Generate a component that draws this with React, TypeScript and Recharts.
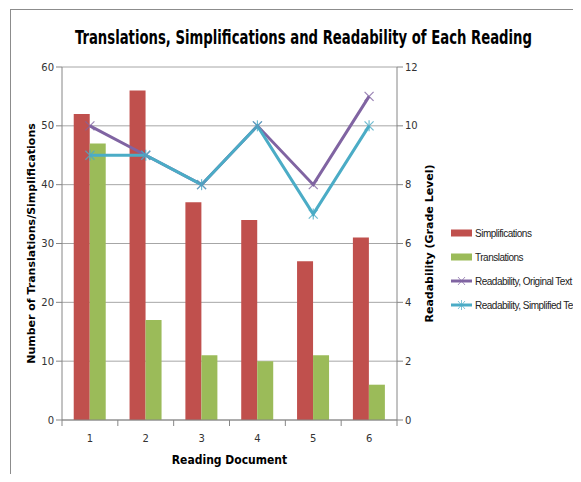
import {
  ComposedChart,
  Bar,
  Line,
  XAxis,
  YAxis,
  CartesianGrid,
} from 'recharts'

const documents = ['1', '2', '3', '4', '5', '6']
const simplifications = [52, 56, 37, 34, 27, 31]
const translations = [47, 17, 11, 10, 11, 6]
const readabilityOriginal = [10, 9, 8, 10, 8, 11]
const readabilitySimplified = [9, 9, 8, 10, 7, 10]
const leftTicks = [0, 10, 20, 30, 40, 50, 60]
const rightTicks = [0, 2, 4, 6, 8, 10, 12]

const RED = '#c0504d'
const GREEN = '#9bbb59'
const PURPLE = '#8064a2'
const CYAN = '#4bacc6'
const AXIS = '#868686'

const data = documents.map((d, i) => ({
  doc: d,
  simplifications: simplifications[i],
  translations: translations[i],
  original: readabilityOriginal[i],
  simplified: readabilitySimplified[i],
}))

const CrossDot = (props: any) => {
  const { cx, cy } = props
  if (cx == null || cy == null) return null
  const s = 4.5
  return (
    <g stroke={PURPLE} strokeWidth={1.2} opacity={0.8}>
      <line x1={cx - s} y1={cy - s} x2={cx + s} y2={cy + s} />
      <line x1={cx - s} y1={cy + s} x2={cx + s} y2={cy - s} />
    </g>
  )
}

const StarDot = (props: any) => {
  const { cx, cy } = props
  if (cx == null || cy == null) return null
  const s = 4.5
  return (
    <g stroke={CYAN} strokeWidth={1.2} opacity={0.8}>
      <line x1={cx - s} y1={cy - s} x2={cx + s} y2={cy + s} />
      <line x1={cx - s} y1={cy + s} x2={cx + s} y2={cy - s} />
      <line x1={cx} y1={cy - s - 1} x2={cx} y2={cy + s + 1} />
    </g>
  )
}

const XTick = (props: any) => {
  const { x, y, payload, index } = props
  const half = payload?.offset ?? 28
  return (
    <g>
      <line x1={x - half} y1={y - 8} x2={x - half} y2={y - 2} stroke={AXIS} />
      {index === documents.length - 1 && (
        <line x1={x + half} y1={y - 8} x2={x + half} y2={y - 2} stroke={AXIS} />
      )}
      <text x={x} y={y + 14} textAnchor="middle" fontSize={10} fill="#333" fontFamily="DejaVu Sans">
        {payload.value}
      </text>
    </g>
  )
}

const legendItems = [
  { label: 'Simplifications', color: RED, kind: 'bar' },
  { label: 'Translations', color: GREEN, kind: 'bar' },
  { label: 'Readability, Original Text', color: PURPLE, kind: 'cross' },
  { label: 'Readability, Simplified Text', color: CYAN, kind: 'star' },
]

const ChartLegend = () => (
  <div
    style={{
      position: 'absolute',
      left: 443,
      top: 213,
      fontFamily: 'Liberation Sans',
      fontSize: 10,
      letterSpacing: -0.5,
      color: '#222',
    }}
  >
    {legendItems.map(it => (
      <div key={it.label} style={{ display: 'flex', alignItems: 'center', height: 24, whiteSpace: 'nowrap' }}>
        <svg width={22} height={10} style={{ marginRight: 2 }}>
          {it.kind === 'bar' ? (
            <rect x={0} y={1.5} width={21} height={7} fill={it.color} />
          ) : (
            <g>
              <line x1={0} y1={5} x2={21} y2={5} stroke={it.color} strokeWidth={3} />
              <g stroke={it.color} strokeWidth={1} opacity={0.7}>
                <line x1={7} y1={1} x2={14} y2={9} />
                <line x1={7} y1={9} x2={14} y2={1} />
                {it.kind === 'star' && <line x1={10.5} y1={0} x2={10.5} y2={10} />}
              </g>
            </g>
          )}
        </svg>
        <span>{it.label}</span>
      </div>
    ))}
  </div>
)

export default function App() {
  return (
    <div style={{ position: 'relative', width: 573, height: 466, overflow: 'hidden', background: '#fff' }}>
      <div
        style={{
          position: 'absolute',
          left: 2,
          top: 1,
          width: 700,
          height: 600,
          borderTop: '1px solid #8c8c8c',
          borderLeft: '1px solid #8c8c8c',
        }}
      />
      <div style={{ position: 'absolute', left: 0, top: 0 }}>
        <ComposedChart
          width={590}
          height={466}
          data={data}
          margin={{ top: 59, right: 161, bottom: 24, left: 14 }}
          barGap={0}
          barCategoryGap="21%"
        >
          <text
            x={67}
            y={36}
            textAnchor="start"
            fontFamily="DejaVu Sans Condensed"
            fontWeight="bold"
            fontSize={19}
            textLength={457}
            lengthAdjust="spacingAndGlyphs"
            fill="#000"
          >
            Translations, Simplifications and Readability of Each Reading
          </text>
          <CartesianGrid yAxisId="left" vertical={false} stroke="#a6a6a6" />
          <XAxis
            dataKey="doc"
            height={30}
            axisLine={{ stroke: AXIS }}
            tickLine={false}
            tick={<XTick />}
            label={{
              value: 'Reading Document',
              position: 'insideBottom',
              offset: -14,
              fontFamily: 'DejaVu Sans Condensed',
              fontWeight: 'bold',
              fontSize: 12,
              fill: '#000',
            }}
          />
          <YAxis
            yAxisId="left"
            width={40}
            domain={[0, 60]}
            ticks={leftTicks}
            interval={0}
            axisLine={{ stroke: AXIS }}
            tickLine={{ stroke: AXIS }}
            tickSize={6}
            tick={{ fontSize: 10, fill: '#333', fontFamily: 'DejaVu Sans' }}
            label={{
              value: 'Number of Translations/Simplifications',
              angle: -90,
              position: 'insideLeft',
              offset: 9,
              style: { textAnchor: 'middle' },
              fontFamily: 'DejaVu Sans',
              fontWeight: 'bold',
              fontSize: 11,
              fill: '#000',
            }}
          />
          <YAxis
            yAxisId="right"
            orientation="right"
            width={40}
            domain={[0, 12]}
            ticks={rightTicks}
            interval={0}
            axisLine={{ stroke: AXIS }}
            tickLine={{ stroke: AXIS }}
            tickSize={6}
            tick={{ fontSize: 10, fill: '#333', fontFamily: 'DejaVu Sans' }}
            label={{
              value: 'Readability  (Grade Level)',
              angle: -90,
              position: 'insideRight',
              offset: 8,
              style: { textAnchor: 'middle' },
              fontFamily: 'DejaVu Sans',
              fontWeight: 'bold',
              fontSize: 11,
              fill: '#000',
            }}
          />
          <Bar yAxisId="left" dataKey="simplifications" name="Simplifications" fill={RED} isAnimationActive={false} />
          <Bar yAxisId="left" dataKey="translations" name="Translations" fill={GREEN} isAnimationActive={false} />
          <Line
            yAxisId="right"
            dataKey="original"
            name="Readability, Original Text"
            stroke={PURPLE}
            strokeWidth={3}
            dot={<CrossDot />}
            activeDot={false}
            isAnimationActive={false}
          />
          <Line
            yAxisId="right"
            dataKey="simplified"
            name="Readability, Simplified Text"
            stroke={CYAN}
            strokeWidth={3}
            dot={<StarDot />}
            activeDot={false}
            isAnimationActive={false}
          />
        </ComposedChart>
      </div>
      <ChartLegend />
    </div>
  )
}
